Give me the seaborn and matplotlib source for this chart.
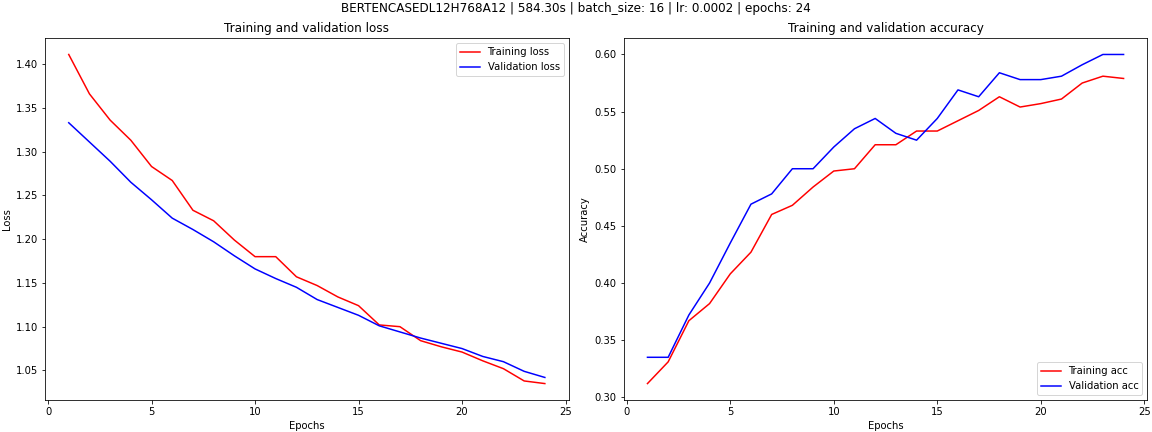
import matplotlib
matplotlib.use("Agg")
import matplotlib.pyplot as plt
import seaborn as sns

epochs = list(range(1, 25))
train_loss = [1.411, 1.366, 1.336, 1.313, 1.283, 1.267, 1.233, 1.221, 1.199, 1.180, 1.180, 1.157,
              1.147, 1.134, 1.124, 1.102, 1.100, 1.084, 1.077, 1.071, 1.061, 1.052, 1.038, 1.035]
val_loss = [1.333, 1.311, 1.289, 1.265, 1.245, 1.224, 1.211, 1.197, 1.181, 1.166, 1.155, 1.145,
            1.131, 1.122, 1.113, 1.101, 1.094, 1.087, 1.081, 1.075, 1.066, 1.060, 1.049, 1.042]
train_acc = [0.312, 0.331, 0.367, 0.382, 0.408, 0.427, 0.460, 0.468, 0.484, 0.498, 0.500, 0.521,
             0.521, 0.533, 0.533, 0.542, 0.551, 0.563, 0.554, 0.557, 0.561, 0.575, 0.581, 0.579]
val_acc = [0.335, 0.335, 0.372, 0.400, 0.435, 0.469, 0.478, 0.500, 0.500, 0.519, 0.535, 0.544,
           0.531, 0.525, 0.544, 0.569, 0.563, 0.584, 0.578, 0.578, 0.581, 0.591, 0.600, 0.600]

fig, (ax1, ax2) = plt.subplots(1, 2, figsize=(16, 6), dpi=72)
fig.suptitle("BERTENCASEDL12H768A12 | 584.30s | batch_size: 16 | lr: 0.0002 | epochs: 24", y=0.995)

# loss
sns.lineplot(x=epochs, y=train_loss, color="red", label="Training loss", ax=ax1)
sns.lineplot(x=epochs, y=val_loss, color="blue", label="Validation loss", ax=ax1)
ax1.set_title("Training and validation loss")
ax1.set_xlabel("Epochs")
ax1.set_ylabel("Loss")
ax1.legend(loc="upper right")

# accuracy
sns.lineplot(x=epochs, y=train_acc, color="red", label="Training acc", ax=ax2)
sns.lineplot(x=epochs, y=val_acc, color="blue", label="Validation acc", ax=ax2)
ax2.set_title("Training and validation accuracy")
ax2.set_xlabel("Epochs")
ax2.set_ylabel("Accuracy")
ax2.legend(loc="lower right")

fig.subplots_adjust(left=0.039, right=0.996, top=0.912, bottom=0.074, wspace=0.105)
fig.savefig("out.png")
